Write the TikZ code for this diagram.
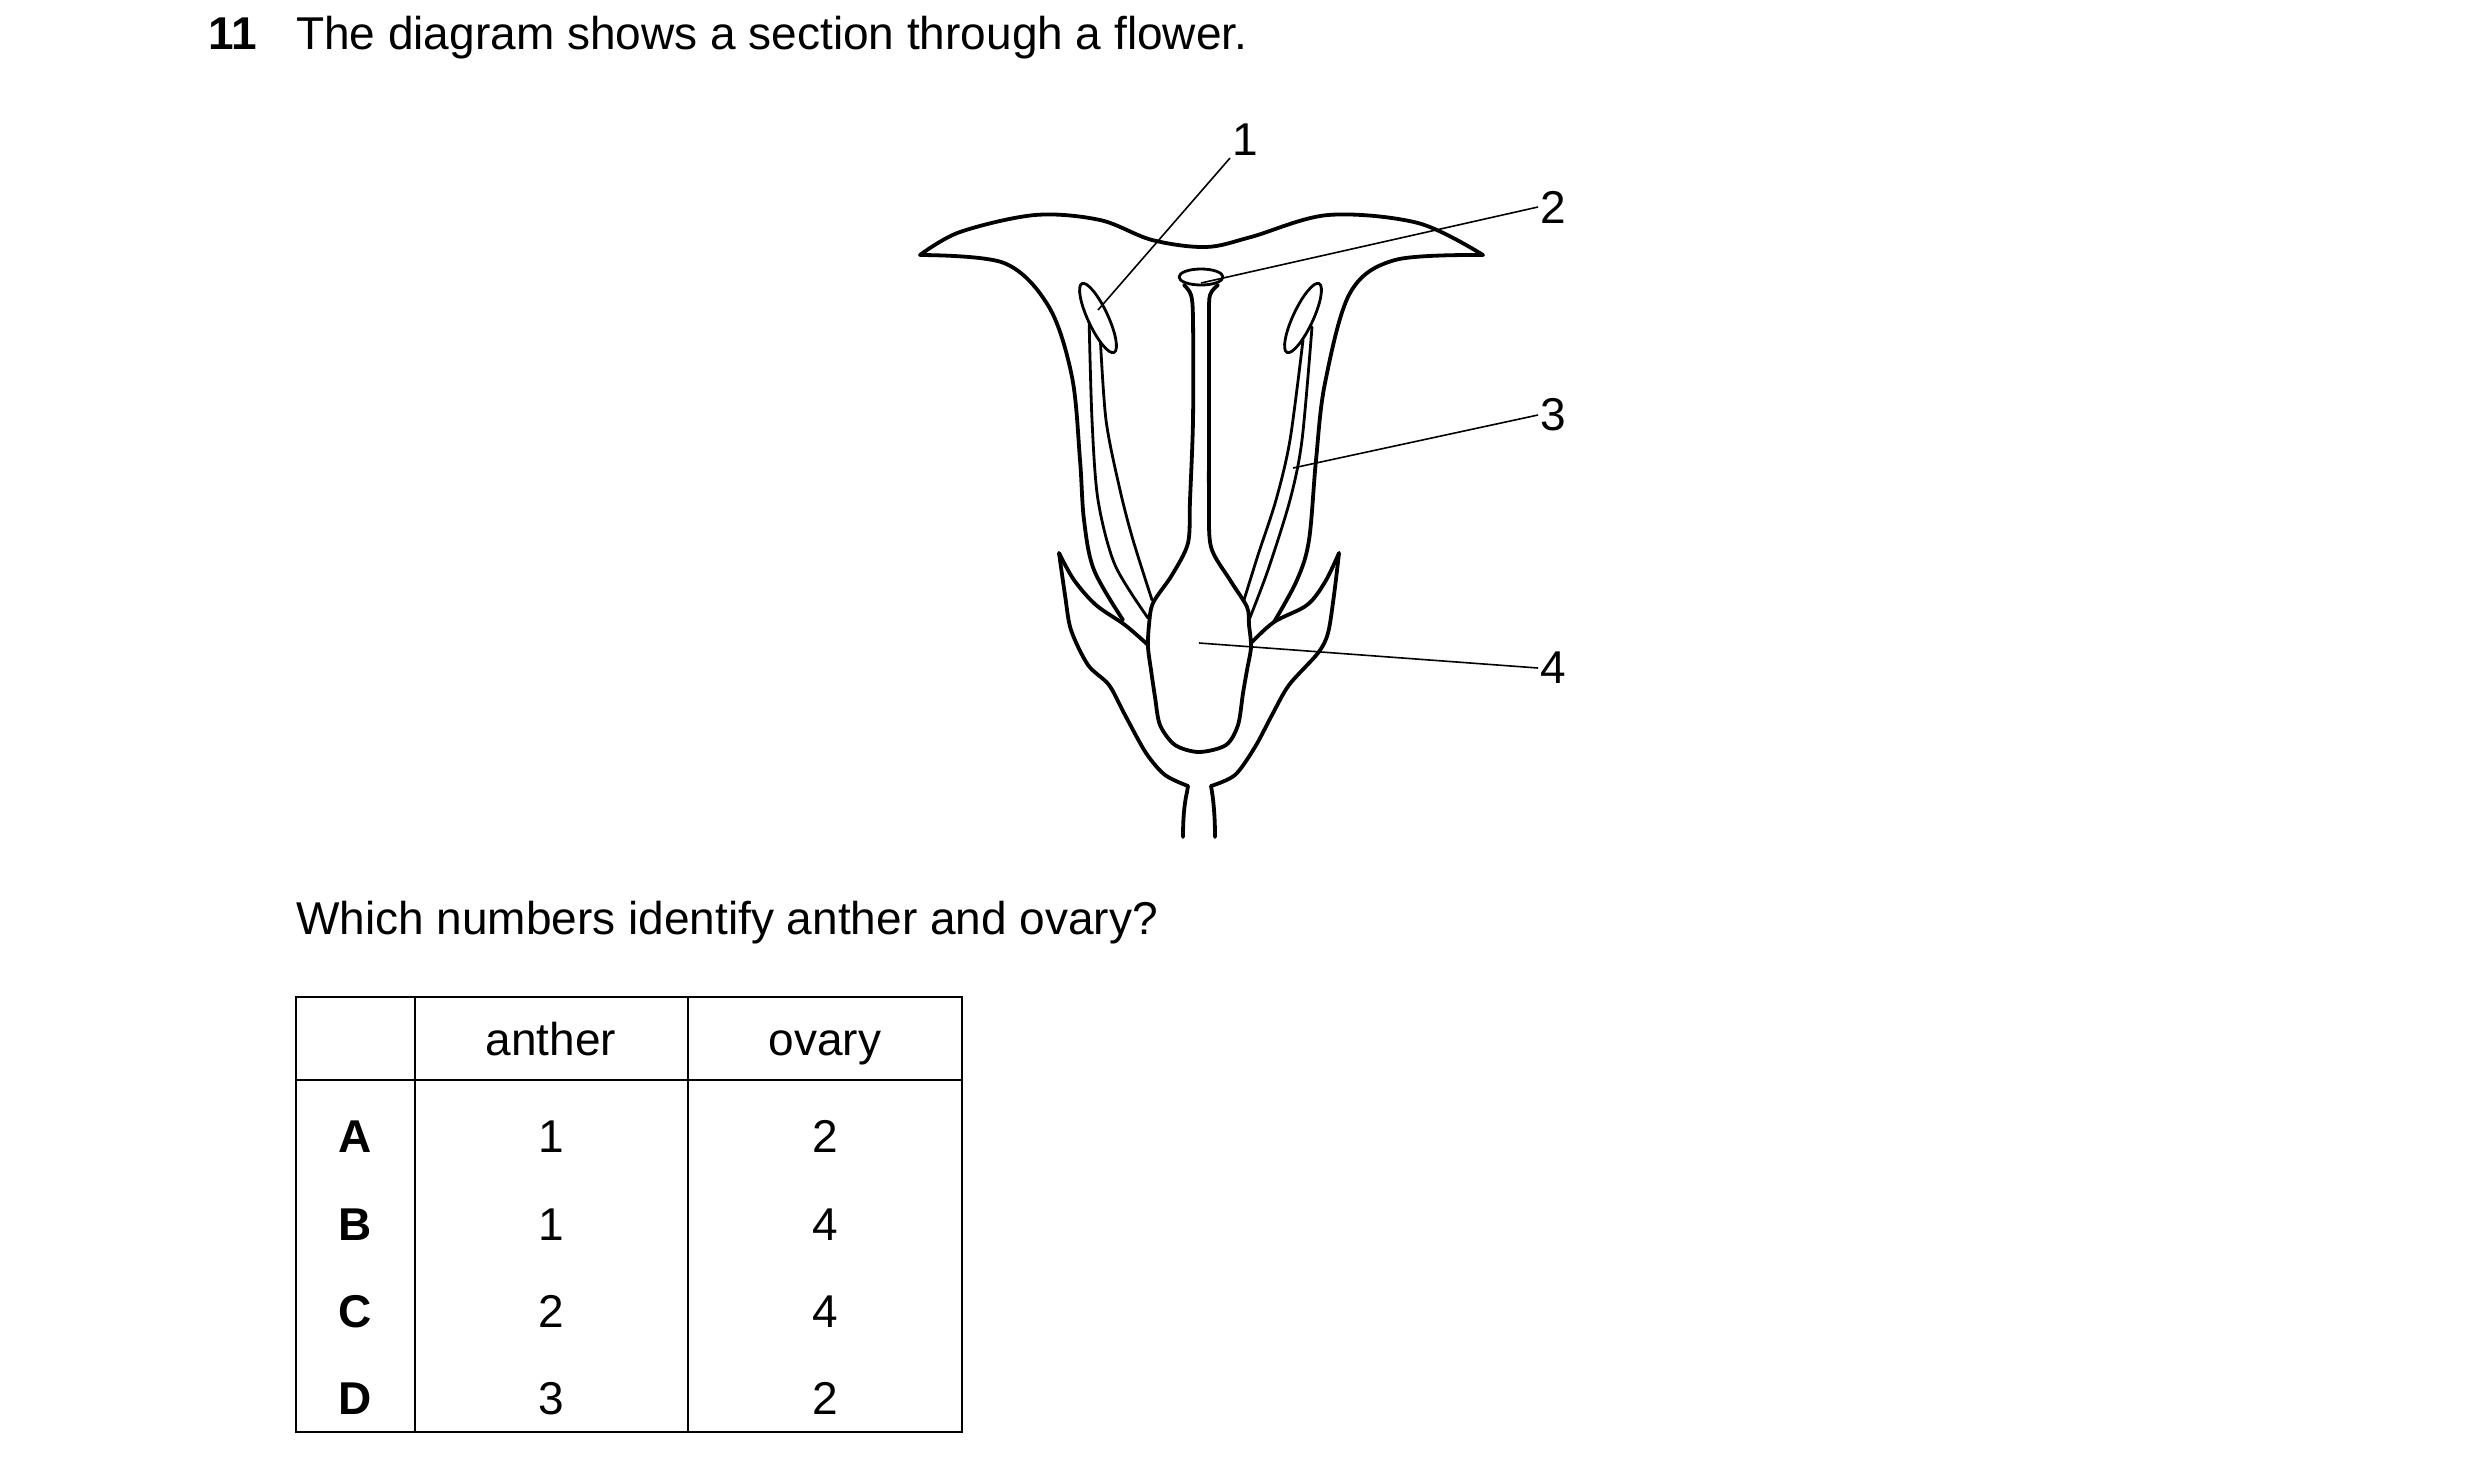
\documentclass[tikz,border=0pt]{standalone}
\usepackage{fontspec}
\setmainfont{Liberation Sans}
\begin{document}
\begin{tikzpicture}[x=1pt,y=-1pt,
  thick line/.style={line width=3.8pt,line join=round,line cap=round},
  thin part/.style={line width=2.8pt,line join=round,line cap=round},
  lead/.style={line width=1.6pt},
  lab/.style={font=\fontsize{46}{54}\selectfont,inner sep=2pt},
  cell/.style={lab,anchor=base},
  grid/.style={line width=2pt}]
\useasboundingbox (0,0) rectangle (2480,1472);
\fill[white] (0,0) rectangle (2480,1472);
% heading
\node[lab,anchor=base west,font=\fontsize{46}{54}\selectfont\bfseries] (num) at (206,50) {11};
\node[lab,anchor=base west] (title) at (294,50) {The diagram shows a section through a flower.};
% corolla rim
\draw[thick line] plot[smooth,tension=0.55] coordinates {(920,255)(960,232)(1035,215)(1100,220)(1152,240)(1206,247)(1251,237)(1328,215)(1418,223)(1483,255)};
% corolla inner sides
\draw[thick line] plot[smooth,tension=0.55] coordinates {(920,255)(1004,263)(1049,307)(1072,377)(1080,460)(1084,520)(1094,570)(1123,620)};
\draw[thick line] plot[smooth,tension=0.55] coordinates {(1483,255)(1395,260)(1350,293)(1325,383)(1316,460)(1309,540)(1297,580)(1274,622)};
% sepals left
\draw[thick line] plot[smooth,tension=0.55] coordinates {(1059,553)(1074,580)(1096,605)(1125,625)(1148,645)};
\draw[thick line] plot[smooth,tension=0.5] coordinates {(1059,553)(1065,595)(1071,630)(1088,665)(1109,685)(1125,715)(1146,753)(1165,775)(1188,786)};
\draw[thick line] (1188,786) -- (1187,792) .. controls (1184,805) and (1183,820) .. (1183,837);
% sepals right
\draw[thick line] plot[smooth,tension=0.55] coordinates {(1339,553)(1325,582)(1307,605)(1274,622)(1251,643)};
\draw[thick line] plot[smooth,tension=0.5] coordinates {(1339,553)(1334,595)(1328,633)(1318,653)(1289,685)(1272,715)(1255,747)(1235,775)(1211,786)};
\draw[thick line] (1211,786) -- (1212,792) .. controls (1214,805) and (1215,820) .. (1215,837);
% style and ovary
\draw[thick line] plot[smooth,tension=0.5] coordinates {(1184,285)(1191,295)(1193,320)(1193,420)(1190,500)(1188,543)(1172,575)(1153,603)(1149,625)(1148,647)(1151,670)(1155,697)(1160,725)(1175,745)(1199,752)(1226,745)(1238,725)(1243,693)(1247,670)(1251,647)(1249,625)(1247,607)(1230,580)(1211,547)(1209,500)(1209,420)(1209,320)(1210,295)(1218,285)};
\draw[thin part] (1201,277) ellipse [x radius=22,y radius=8];
% stamens
\draw[thin part] plot[smooth,tension=0.5] coordinates {(1089,317)(1092,420)(1098,500)(1115,565)(1148,618)};
\draw[thin part] plot[smooth,tension=0.5] coordinates {(1100,333)(1106,420)(1120,490)(1133,540)(1152,600)};
\draw[thin part] plot[smooth,tension=0.5] coordinates {(1312,327)(1302,440)(1290,500)(1268,570)(1249,620)};
\draw[thin part] plot[smooth,tension=0.5] coordinates {(1303,340)(1290,440)(1276,500)(1258,555)(1244,600)};
\draw[thin part,fill=white,rotate around={-65:(1098,318)}] (1098,318) ellipse [x radius=38,y radius=10];
\draw[thin part,fill=white,rotate around={65:(1303,318)}] (1303,318) ellipse [x radius=38,y radius=10];
% labels
\node[lab] (l1) at (1245,140) {1};
\node[lab] (l2) at (1553,207) {2};
\node[lab] (l3) at (1553,415) {3};
\node[lab] (l4) at (1553,668) {4};
\coordinate (p1) at (1098,310);
\coordinate (p2) at (1201,283);
\coordinate (p3) at (1293,468);
\coordinate (p4) at (1199,643);
\draw[lead] (p1) -- (l1.south west);
\draw[lead] (p2) -- (l2.west);
\draw[lead] (p3) -- (l3.west);
\draw[lead] (p4) -- (l4.west);
% question
\node[lab,anchor=base west] (q) at (294,934) {Which numbers identify anther and ovary?};
% table
\draw[grid] (296,997) rectangle (962,1432);
\draw[grid] (296,1080) -- (962,1080);
\draw[grid] (415,997) -- (415,1432);
\draw[grid] (688,997) -- (688,1432);
\node[cell] (h1) at (551,1055) {anther};
\node[cell] (h2) at (825,1055) {ovary};
\node[cell,font=\fontsize{46}{54}\selectfont\bfseries] (rA) at (355,1152) {A};
\node[cell,font=\fontsize{46}{54}\selectfont\bfseries] (rB) at (355,1240) {B};
\node[cell,font=\fontsize{46}{54}\selectfont\bfseries] (rC) at (355,1327) {C};
\node[cell,font=\fontsize{46}{54}\selectfont\bfseries] (rD) at (355,1414) {D};
\node[cell] (a1) at (551,1152) {1}; \node[cell] (o1) at (825,1152) {2};
\node[cell] (a2) at (551,1240) {1}; \node[cell] (o2) at (825,1240) {4};
\node[cell] (a3) at (551,1327) {2}; \node[cell] (o3) at (825,1327) {4};
\node[cell] (a4) at (551,1414) {3}; \node[cell] (o4) at (825,1414) {2};
\end{tikzpicture}
\end{document}
